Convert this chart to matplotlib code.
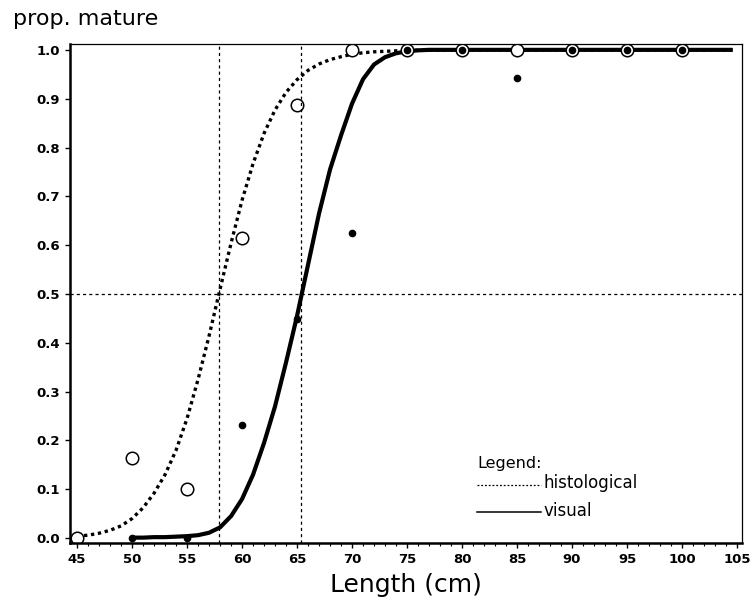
import numpy as np
import matplotlib.pyplot as plt
from matplotlib.ticker import MultipleLocator

# observed proportions mature by length class
lengths = [45, 50, 55, 60, 65, 70, 75, 80, 85, 90, 95, 100]
histo_obs = [0.0, 0.165, 0.10, 0.615, 0.888, 1.0, 1.0, 1.0, 1.0, 1.0, 1.0, 1.0]
visual_len = [50, 55, 60, 65, 70, 75, 80, 85, 90, 95, 100]
visual_obs = [0.0, 0.0, 0.232, 0.448, 0.625, 1.0, 1.0, 0.942, 1.0, 1.0, 1.0]

# fitted ogives at 1 cm steps
histo_x = list(range(45, 76)) + [80, 90, 100, 104.6]
histo_fit = [0.004, 0.006, 0.010, 0.016, 0.025, 0.04, 0.062, 0.092, 0.13, 0.18,
             0.245, 0.325, 0.414, 0.51, 0.604, 0.692, 0.767, 0.829, 0.877, 0.913,
             0.939, 0.958, 0.971, 0.980, 0.986, 0.991, 0.994, 0.996, 0.997, 0.998,
             0.999, 1.0, 1.0, 1.0, 1.0]
visual_x = list(range(50, 81)) + [90, 100, 104.6]
visual_fit = [0.001, 0.001, 0.002, 0.002, 0.003, 0.004, 0.006, 0.011, 0.022, 0.045,
              0.08, 0.13, 0.195, 0.27, 0.36, 0.455, 0.56, 0.665, 0.755, 0.825,
              0.89, 0.94, 0.97, 0.985, 0.993, 0.997, 0.999, 1.0, 1.0, 1.0,
              1.0, 1.0, 1.0, 1.0]

l50_histo = 57.9
l50_visual = 65.4

fig = plt.figure(figsize=(7.52, 6.11), dpi=100)
ax = fig.add_axes([0.0931, 0.1113, 0.8936, 0.8167])

ax.plot(histo_x, histo_fit, color='black', lw=2.4, linestyle=(0, (1, 1.1)))
ax.plot(visual_x, visual_fit, color='black', lw=3.0, solid_capstyle='butt',
        solid_joinstyle='round')
ax.plot(lengths, histo_obs, 'o', mfc='white', mec='black', mew=1.1, ms=9)
ax.plot(visual_len, visual_obs, 'o', color='black', ms=4.5)

# reference lines at 50% maturity
ax.axhline(0.5, color='black', lw=0.9, linestyle=(0, (2.5, 2.5)))
ax.axvline(l50_histo, color='black', lw=0.9, linestyle=(0, (2.5, 2.5)))
ax.axvline(l50_visual, color='black', lw=0.9, linestyle=(0, (2.5, 2.5)))

ax.set_xlim(44.36, 105.45)
ax.set_ylim(-0.01, 1.012)
ax.set_xticks(range(45, 106, 5))
ax.xaxis.set_minor_locator(MultipleLocator(1))
ax.set_yticks(np.arange(0, 1.01, 0.1))
ax.set_yticklabels([f"{v:.1f}" for v in np.arange(0, 1.01, 0.1)])
ax.tick_params(axis='both', which='major', direction='out', length=3.5, width=1,
               labelsize=9.5, pad=4)
ax.tick_params(axis='x', which='minor', direction='out', length=2.5, width=0.8)
for lab in ax.get_xticklabels() + ax.get_yticklabels():
    lab.set_fontweight('bold')

ax.spines['left'].set_linewidth(1.8)
ax.spines['bottom'].set_linewidth(1.8)
ax.spines['top'].set_linewidth(0.9)
ax.spines['right'].set_linewidth(0.9)

ax.set_xlabel("Length (cm)", fontsize=18, labelpad=5)
fig.text(13 / 752, 1 - 25 / 611, "prop. mature", fontsize=16, va='baseline', ha='left')

# legend drawn by hand
ax.text(0.606, 0.160, "Legend:", transform=ax.transAxes, fontsize=11.5, va='center')
ax.plot([0.606, 0.701], [0.116, 0.116], transform=ax.transAxes, color='black',
        lw=0.9, linestyle=(0, (1.5, 1.5)))
ax.text(0.704, 0.120, "histological", transform=ax.transAxes, fontsize=12, va='center')
ax.plot([0.606, 0.701], [0.062, 0.062], transform=ax.transAxes, color='black', lw=1.1)
ax.text(0.704, 0.064, "visual", transform=ax.transAxes, fontsize=12, va='center')

fig.savefig("out.png", dpi=100)
